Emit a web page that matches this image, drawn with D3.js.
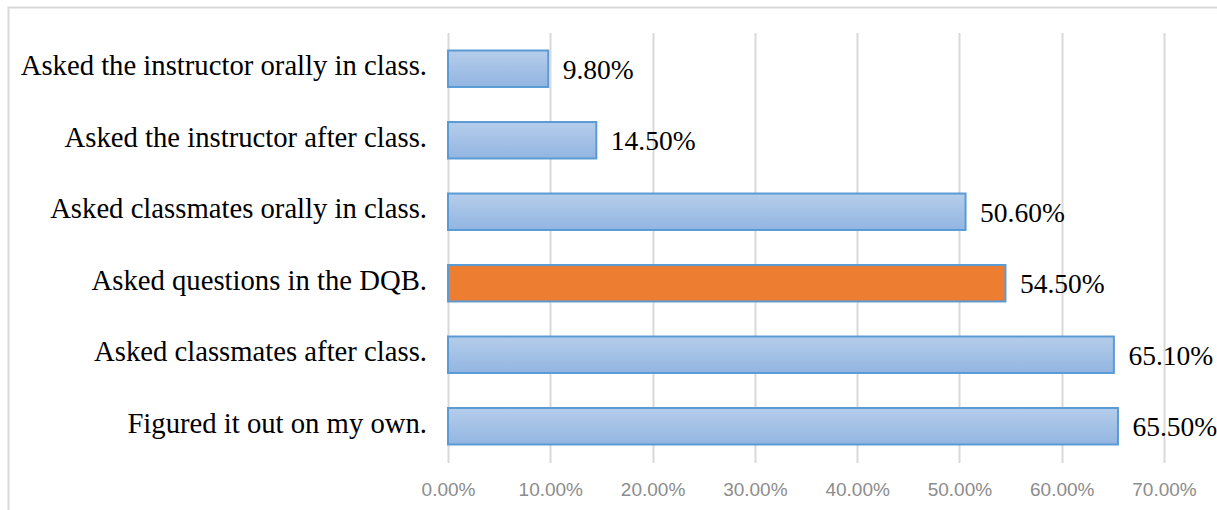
<!DOCTYPE html>
<html>
<head>
<meta charset="utf-8">
<script src="https://cdn.jsdelivr.net/npm/d3@7"></script>
<style>
  html, body { margin: 0; padding: 0; background: #ffffff; }
  svg { display: block; }
</style>
</head>
<body>
<svg id="chart" width="1217" height="510"></svg>
<script>
// Responses, listed top to bottom
const categories = [
  "Asked the instructor orally in class.",
  "Asked the instructor after class.",
  "Asked classmates orally in class.",
  "Asked questions in the DQB.",
  "Asked classmates after class.",
  "Figured it out on my own."
];
const values = [9.8, 14.5, 50.6, 54.5, 65.1, 65.5];
const highlighted = ["Asked questions in the DQB."];
const tickValues = [0, 10, 20, 30, 40, 50, 60, 70];

const svg = d3.select("#chart");
const W = 1217, H = 510;
const margin = { left: 448, right: 53, top: 33, bottom: 48 };

// Outer frame (only the top and left edges are visible)
svg.append("path")
  .attr("d", `M8.5,${H} L8.5,7.5 L${W},7.5`)
  .attr("fill", "none")
  .attr("stroke", "#d9d9d9")
  .attr("stroke-width", 2);

const x = d3.scaleLinear().domain([0, 70]).range([margin.left, W - margin.right]);
const y = d3.scaleBand().domain(categories).range([margin.top, H - margin.bottom]).paddingInner(0.49).paddingOuter(0.245);

// Bar gradient
const defs = svg.append("defs");
const grad = defs.append("linearGradient").attr("id", "barGrad")
  .attr("x1", 0).attr("y1", 0).attr("x2", 0).attr("y2", 1);
grad.append("stop").attr("offset", "0%").attr("stop-color", "#b5cdeb");
grad.append("stop").attr("offset", "100%").attr("stop-color", "#92b5e1");

// Vertical gridlines
const gridTop = margin.top, gridBottom = H - margin.bottom + 1;
svg.append("g").selectAll("line")
  .data(tickValues)
  .join("line")
  .attr("x1", d => Math.round(x(d)) + 0.5)
  .attr("x2", d => Math.round(x(d)) + 0.5)
  .attr("y1", gridTop)
  .attr("y2", gridBottom)
  .attr("stroke", "#d9d9d9")
  .attr("stroke-width", 2);

// Bottom axis with tick labels only
const xAxis = d3.axisBottom(x)
  .tickValues(tickValues)
  .tickFormat(d => d3.format(".2f")(d) + "%")
  .tickSize(0)
  .tickPadding(0);
const gx = svg.append("g")
  .attr("transform", `translate(0,${H - 14})`)
  .call(xAxis);
gx.select(".domain").remove();
gx.selectAll("text")
  .attr("dy", 0)
  .attr("fill", "#8c8c8c")
  .attr("font-family", "'Liberation Sans', Arial, sans-serif")
  .attr("font-size", "19px");

// Bars
svg.append("g").selectAll("rect")
  .data(categories)
  .join("rect")
  .attr("x", x(0))
  .attr("y", d => y(d))
  .attr("width", (d, i) => x(values[i]) - x(0))
  .attr("height", y.bandwidth())
  .attr("fill", d => highlighted.includes(d) ? "#ed7d31" : "url(#barGrad)")
  .attr("stroke", "#5b9bd5")
  .attr("stroke-width", 2);

// Category labels
const gy = svg.append("g")
  .attr("transform", `translate(${x(0)},0)`)
  .call(d3.axisLeft(y).tickSize(0).tickPadding(21));
gy.select(".domain").remove();
gy.selectAll("text")
  .attr("dy", "6.5px")
  .attr("fill", "#000000")
  .attr("font-family", "'Liberation Serif', 'Times New Roman', serif")
  .attr("font-size", "28.7px");

// Value labels
svg.append("g").selectAll("text")
  .data(categories)
  .join("text")
  .attr("x", (d, i) => x(values[i]) + 14.5)
  .attr("y", d => y(d) + y.bandwidth() / 2)
  .attr("dy", "10px")
  .attr("fill", "#000000")
  .attr("font-family", "'Liberation Serif', 'Times New Roman', serif")
  .attr("font-size", "27.5px")
  .text((d, i) => d3.format(".2f")(values[i]) + "%");
</script>
</body>
</html>
